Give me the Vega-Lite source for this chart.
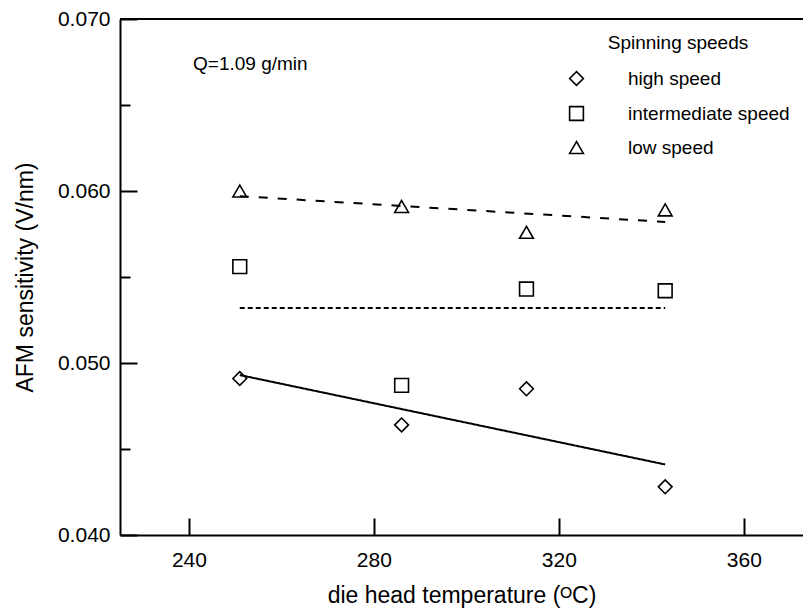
{
  "$schema": "https://vega.github.io/schema/vega-lite/v6.json",
  "width": 683,
  "height": 516,
  "autosize": {"type": "none"},
  "padding": {"left": 120, "top": 19, "right": 0, "bottom": 76},
  "config": {
    "view": {"stroke": null},
    "font": "Liberation Sans",
    "axis": {"labelColor": "black", "titleColor": "black", "domainColor": "black", "tickColor": "black", "grid": false}
  },
  "datasets": {
    "points": [
      {"temperature": 251, "sensitivity": 0.0491, "speed": "high speed"},
      {"temperature": 286, "sensitivity": 0.0464, "speed": "high speed"},
      {"temperature": 313, "sensitivity": 0.0485, "speed": "high speed"},
      {"temperature": 343, "sensitivity": 0.0428, "speed": "high speed"},
      {"temperature": 251, "sensitivity": 0.0556, "speed": "intermediate speed"},
      {"temperature": 286, "sensitivity": 0.0487, "speed": "intermediate speed"},
      {"temperature": 313, "sensitivity": 0.0543, "speed": "intermediate speed"},
      {"temperature": 343, "sensitivity": 0.0542, "speed": "intermediate speed"},
      {"temperature": 251, "sensitivity": 0.0600, "speed": "low speed"},
      {"temperature": 286, "sensitivity": 0.0591, "speed": "low speed"},
      {"temperature": 313, "sensitivity": 0.0576, "speed": "low speed"},
      {"temperature": 343, "sensitivity": 0.0589, "speed": "low speed"}
    ],
    "fits": [
      {"temperature": 251, "sensitivity": 0.0493, "series": "high fit"},
      {"temperature": 343, "sensitivity": 0.0441, "series": "high fit"},
      {"temperature": 251, "sensitivity": 0.0532, "series": "intermediate fit"},
      {"temperature": 343, "sensitivity": 0.0532, "series": "intermediate fit"},
      {"temperature": 251, "sensitivity": 0.0597, "series": "low fit"},
      {"temperature": 343, "sensitivity": 0.0582, "series": "low fit"}
    ],
    "notes": [
      {"temperature": 240.9, "sensitivity": 0.0674, "note": "Q=1.09 g/min"}
    ],
    "frame": [
      {"sensitivity": 0.070}
    ]
  },
  "layer": [
    {
      "data": {"name": "frame"},
      "mark": {"type": "rule", "color": "black", "strokeWidth": 2},
      "encoding": {
        "y": {"field": "sensitivity", "type": "quantitative"}
      }
    },
    {
      "data": {"name": "fits"},
      "mark": {"type": "line", "color": "black", "strokeWidth": 2},
      "encoding": {
        "x": {"field": "temperature", "type": "quantitative"},
        "y": {"field": "sensitivity", "type": "quantitative"},
        "detail": {"field": "series"},
        "strokeDash": {
          "field": "series",
          "type": "nominal",
          "scale": {"domain": ["high fit", "intermediate fit", "low fit"], "range": [[1, 0], [5, 3], [9, 10]]},
          "legend": null
        }
      }
    },
    {
      "data": {"name": "notes"},
      "mark": {"type": "text", "align": "left", "baseline": "middle", "fontSize": 19, "color": "black", "font": "Liberation Sans"},
      "encoding": {
        "x": {"field": "temperature", "type": "quantitative"},
        "y": {"field": "sensitivity", "type": "quantitative"},
        "text": {"field": "note"}
      }
    },
    {
      "data": {"name": "points"},
      "mark": {"type": "point", "filled": false, "color": "black", "strokeWidth": 1.6, "opacity": 1, "size": 190},
      "encoding": {
        "x": {
          "field": "temperature",
          "type": "quantitative",
          "scale": {"domain": [225.1, 372.8], "nice": false, "zero": false},
          "axis": {
            "values": [240, 280, 320, 360],
            "tickSize": -17,
            "tickWidth": 2,
            "domainWidth": 2,
            "labelFontSize": 21,
            "labelPadding": 31,
            "title": "die head temperature (ᴼC)",
            "titleFontSize": 23,
            "titleFontWeight": "normal",
            "titlePadding": 14
          }
        },
        "y": {
          "field": "sensitivity",
          "type": "quantitative",
          "scale": {"domain": [0.040, 0.070], "nice": false, "zero": false},
          "axis": {
            "values": [0.040, 0.045, 0.050, 0.055, 0.060, 0.065, 0.070],
            "format": ".3f",
            "labelExpr": "round(datum.value * 1000) % 10 == 5 ? '' : datum.label",
            "tickSize": {"condition": {"test": "round(datum.value * 1000) % 10 == 5", "value": -10}, "value": -17},
            "tickWidth": 2,
            "domainWidth": 2,
            "labelFontSize": 21,
            "labelPadding": 27,
            "title": "AFM sensitivity (V/nm)",
            "titleFontSize": 23,
            "titleFontWeight": "normal",
            "titlePadding": 20
          }
        },
        "shape": {
          "field": "speed",
          "type": "nominal",
          "scale": {"domain": ["high speed", "intermediate speed", "low speed"], "range": ["diamond", "square", "triangle-up"]},
          "legend": {
            "title": "Spinning speeds",
            "orient": "none",
            "legendX": 447,
            "legendY": 15,
            "titleAnchor": "middle",
            "titleFontSize": 19,
            "titleFontWeight": "normal",
            "titleColor": "black",
            "titlePadding": 16,
            "labelFontSize": 19,
            "labelColor": "black",
            "labelLimit": 0,
            "labelOffset": 42,
            "rowPadding": 14,
            "symbolSize": 190,
            "symbolStrokeWidth": 1.6,
            "symbolStrokeColor": "black",
            "padding": 0
          }
        }
      }
    }
  ]
}
